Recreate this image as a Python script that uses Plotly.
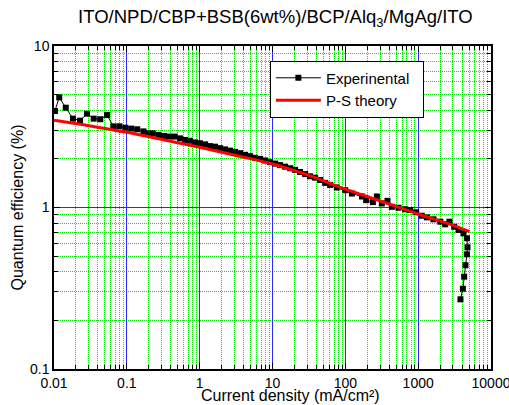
import plotly.graph_objects as go

# Experimental data (current density mA/cm^2, quantum efficiency %)
exp_j = [0.0103, 0.0118, 0.0145, 0.0182, 0.0228, 0.0284, 0.0351, 0.0432, 0.0535, 0.0653,
         0.0789, 0.0953, 0.115, 0.139, 0.169, 0.191, 0.227, 0.271, 0.324, 0.384,
         0.455, 0.538, 0.630, 0.738, 0.865, 1.01, 1.19, 1.39, 1.63, 1.91,
         2.23, 2.62, 3.06, 3.59, 4.20, 4.92, 5.77, 6.76, 7.91, 9.27,
         10.9, 12.7, 14.9, 17.5, 20.4, 23.9, 28.1, 32.8, 38.5, 45.1,
         52.8, 61.8, 76.4, 99.4, 123, 169, 193, 239, 271, 317,
         379, 435, 536, 663, 776, 939, 1120, 1320, 1620, 2010,
         2350, 2690, 3120, 3580, 4190, 4670, 4750, 4670, 4460, 4280,
         4110, 3810]
exp_qe = [3.96, 4.81, 4.15, 3.55, 3.45, 3.81, 3.55, 3.52, 3.74, 3.18,
          3.18, 3.12, 3.08, 3.05, 2.96, 2.88, 2.88, 2.81, 2.77, 2.75,
          2.75, 2.68, 2.62, 2.59, 2.53, 2.50, 2.46, 2.40, 2.38, 2.33,
          2.29, 2.25, 2.21, 2.17, 2.12, 2.08, 2.03, 2.00, 1.955, 1.91,
          1.87, 1.83, 1.79, 1.75, 1.71, 1.66, 1.61, 1.56, 1.53, 1.48,
          1.42, 1.38, 1.33, 1.28, 1.22, 1.17, 1.11, 1.08, 1.17, 1.06,
          1.10, 1.01, 0.997, 0.975, 0.965, 0.934, 0.889, 0.869, 0.845, 0.817,
          0.787, 0.817, 0.760, 0.726, 0.692, 0.645, 0.567, 0.513, 0.439, 0.373,
          0.314, 0.270]

# P-S theory curve
th_j = [0.01, 0.0316, 0.1, 0.316, 1, 3.16, 10, 31.6, 100, 316, 1000, 3160, 5070]
th_qe = [3.47, 3.2, 2.92, 2.63, 2.36, 2.1, 1.86, 1.58, 1.30, 1.09, 0.912, 0.77, 0.708]

x_tickvals = [0.01, 0.1, 1, 10, 100, 1000, 10000]
x_ticktext = ["0.01", "0.1", "1", "10", "100", "1000", "10000"]
y_tickvals = [0.1, 1, 10]
y_ticktext = ["0.1", "1", "10"]
minor_digits = [2, 3, 4, 5, 6, 7, 8, 9]
x_minor = [d * 10.0 ** e for e in range(-2, 4) for d in minor_digits]
y_minor = [d * 10.0 ** e for e in range(-1, 1) for d in minor_digits]

fig = go.Figure()
fig.add_trace(go.Scatter(
    x=exp_j, y=exp_qe, mode="lines+markers", name="Experinental\u00a0\u00a0",
    line=dict(color="black", width=1),
    marker=dict(symbol="square", size=6, color="black"),
))
fig.add_trace(go.Scatter(
    x=th_j, y=th_qe, mode="lines", name="P-S theory",
    line=dict(color="red", width=3, shape="spline"),
))

axis_common = dict(
    type="log", automargin=False, ticklabeloverflow="allow",
    showline=True, linecolor="black", linewidth=1.5, mirror="ticks",
    ticks="inside", ticklen=6, tickcolor="black", tickwidth=1,
    showgrid=True, gridcolor="rgb(40,40,255)", gridwidth=1.2,
    zeroline=False,
    tickfont=dict(size=14, color="black"),
)
minor_common = dict(ticks="inside", ticklen=4, tickcolor="black",
                    showgrid=True, gridcolor="rgb(0,235,0)", griddash="1px,1px", gridwidth=1)

fig.update_xaxes(
    **axis_common,
    range=[-2, 4],
    tickvals=x_tickvals, ticktext=x_ticktext,
    minor=dict(tickvals=x_minor, **minor_common),
)
fig.update_yaxes(
    **axis_common,
    range=[-1, 1],
    tickvals=y_tickvals, ticktext=y_ticktext,
    minor=dict(tickvals=y_minor, **minor_common),
)

fig.add_annotation(
    text="Current density (mA/cm\u00b2)", xref="paper", yref="paper",
    x=(290 - 54) / 437, y=-(405 - 369) / 323, xanchor="center", yanchor="bottom",
    showarrow=False, font=dict(size=16, color="black"), borderpad=0,
)
fig.add_annotation(
    text="Quantum efficiency (%)", xref="paper", yref="paper",
    x=(17 - 54) / 437, y=0.5, xanchor="center", yanchor="middle", textangle=-90,
    showarrow=False, font=dict(size=16, color="black"),
)

fig.update_layout(
    width=509, height=405,
    margin=dict(l=54, r=18, t=46, b=36),
    paper_bgcolor="white", plot_bgcolor="white",
    font=dict(family="Liberation Sans, Arial, sans-serif", color="black"),
    title=dict(text="ITO/NPD/CBP+BSB(6wt%)/BCP/Alq<sub>3</sub>/MgAg/ITO",
               x=0.541, xanchor="center", y=0.958, yanchor="middle",
               font=dict(size=18.5, color="black")),
    showlegend=True,
    legend=dict(x=0.494, y=0.955, xanchor="left", yanchor="top",
                bgcolor="white", bordercolor="black", borderwidth=1,
                font=dict(size=15, color="black"),
                itemwidth=45, tracegroupgap=0),
)

fig.write_html("out.html")
